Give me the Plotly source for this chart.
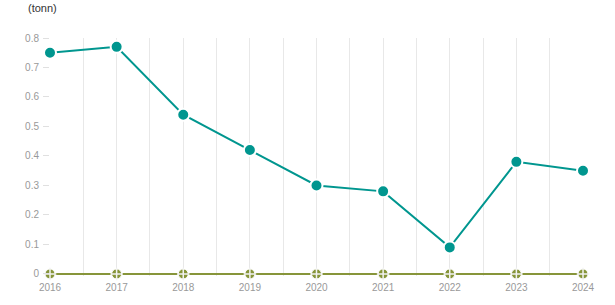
import plotly.graph_objects as go

years = [2016, 2017, 2018, 2019, 2020, 2021, 2022, 2023, 2024]
series_a = [0.75, 0.77, 0.54, 0.42, 0.30, 0.28, 0.09, 0.38, 0.35]
series_b = [0, 0, 0, 0, 0, 0, 0, 0, 0]
y_ticks = [0, 0.1, 0.2, 0.3, 0.4, 0.5, 0.6, 0.7, 0.8]
y_labels = ["0", "0.1", "0.2", "0.3", "0.4", "0.5", "0.6", "0.7", "0.8"]
unit_label = "(tonn)"

TEAL = "#00968f"
OLIVE = "#87953a"

fig = go.Figure()
fig.add_trace(go.Scatter(
    x=years, y=series_b, mode="lines+markers",
    line=dict(color=OLIVE, width=2),
    marker=dict(size=10, color=OLIVE, line=dict(color="white", width=1)),
    cliponaxis=False, showlegend=False, hoverinfo="skip"))
fig.add_trace(go.Scatter(
    x=years, y=series_b, mode="markers",
    marker=dict(size=9, symbol="cross-thin", color="rgba(0,0,0,0)",
                line=dict(color="#f2f2f2", width=1.5)),
    cliponaxis=False, showlegend=False, hoverinfo="skip"))
fig.add_trace(go.Scatter(
    x=years, y=series_a, mode="lines+markers",
    line=dict(color=TEAL, width=2),
    marker=dict(size=12, color=TEAL, line=dict(color="white", width=2)),
    cliponaxis=False, showlegend=False))

fig.update_layout(
    width=615, height=305,
    margin=dict(l=50, r=32, t=38, b=29),
    paper_bgcolor="white", plot_bgcolor="white",
    font=dict(family="Liberation Sans, Arial, sans-serif", color="#999999", size=10),
    xaxis=dict(
        range=[2016, 2024], tickvals=years, ticktext=[str(y) for y in years],
        showgrid=True, gridcolor="#e8e8e8", gridwidth=1,
        minor=dict(tickvals=[y + 0.5 for y in years[:-1]], showgrid=True,
                   gridcolor="#e8e8e8", gridwidth=1),
        zeroline=False, showline=False, ticks="", ticklen=0,
        ticklabelstandoff=4,
        tickfont=dict(size=10, color="#999999"),
    ),
    yaxis=dict(
        range=[-0.007, 0.8], tickvals=y_ticks, ticktext=y_labels,
        showgrid=False, zeroline=False, showline=False,
        ticks="outside", ticklen=6, tickcolor="#e0e0e0",
        ticklabelstandoff=2,
        tickfont=dict(size=10, color="#999999"),
    ),
    annotations=[dict(
        text=unit_label, xref="paper", yref="paper", x=0, y=1,
        xshift=-24, yshift=30, xanchor="left", yanchor="middle",
        showarrow=False, font=dict(size=11, color="#333333"))],
)

fig.write_html("out.html")
